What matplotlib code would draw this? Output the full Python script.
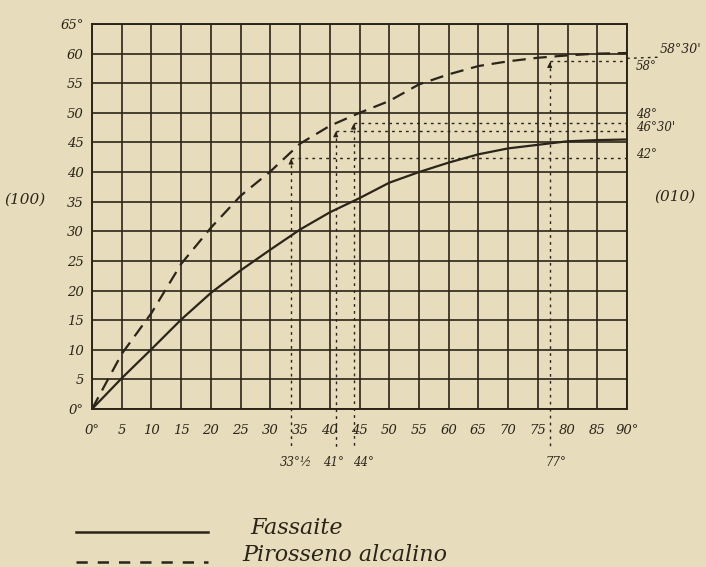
import matplotlib.pyplot as plt
from matplotlib.lines import Line2D
import numpy as np

# extinction angle curves
ang = [0, 5, 10, 15, 20, 25, 30, 35, 40, 45, 50, 55, 60, 65, 70, 75, 80, 85, 90]
fassaite = [0, 5.2, 10.1, 15.1, 19.6, 23.4, 26.9, 30.3, 33.2, 35.6, 38.2, 40.0,
            41.6, 43.0, 44.0, 44.6, 45.2, 45.4, 45.5]
pirosseno = [0, 9.3, 16.2, 24.5, 30.6, 36.0, 40.1, 44.8, 47.8, 50.0, 52.0, 54.8,
             56.5, 57.9, 58.7, 59.3, 59.7, 60.0, 60.1]

# reference points (x on the bottom, y on the right)
ref_x = [33.5, 41, 44, 77]
ref_y = [42.4, 47.0, 48.3, 58.7]
ref_xlab = ["33°½", "41°", "44°", "77°"]
ref_ylab = ["42°", "46°30'", "48°", "58°"]

xticks = list(range(0, 91, 5))
yticks = list(range(0, 66, 5))
xticklab = ["0°"] + [str(v) for v in xticks[1:-1]] + ["90°"]
yticklab = ["0°"] + [str(v) for v in yticks[1:-1]] + ["65°"]

ink = '#2b2519'
paper = '#e7ddbd'
fnt = dict(family='DejaVu Serif', style='italic', color=ink)

fig = plt.figure(figsize=(7.06, 5.67), dpi=100, facecolor=paper)
W, H = 706, 567
ax = fig.add_axes([92/W, 1-409/H, 535/W, 385/H])
ax.set_facecolor(paper)
ax.set_xlim(0, 90)
ax.set_ylim(0, 65)
ax.set_xticks(xticks)
ax.set_yticks(yticks)
ax.set_xticklabels(xticklab, fontsize=9.5, **fnt)
ax.set_yticklabels(yticklab, fontsize=9.5, **fnt)
ax.tick_params(length=0, pad=11, axis='x')
ax.tick_params(length=0, pad=6, axis='y')
ax.grid(True, color=ink, lw=1.2)
for s in ax.spines.values():
    s.set_color(ink)
    s.set_linewidth(1.4)

ax.plot(ang, fassaite, color=ink, lw=1.6)
ax.plot(ang, pirosseno, color=ink, lw=1.6, dashes=(6, 3.5))

dot = (0, (2, 3))
xlab_pos = [34.3, 40.6, 45.6, 78.0]
for xv, yv, xp, xl in zip(ref_x, ref_y, xlab_pos, ref_xlab):
    ax.plot([xv, xv], [yv, -6.5], color=ink, lw=1.0, ls=dot, clip_on=False)
    ax.annotate('', xy=(xv, yv + 0.3), xytext=(xv, yv - 1.5),
                arrowprops=dict(arrowstyle='-|>', color=ink, lw=0.8,
                                mutation_scale=7))
    ax.text(xp, -9, xl, ha='center', va='center', fontsize=8.5, **fnt)

for xv, yv in zip(ref_x, ref_y):
    ax.plot([xv, 90], [yv, yv], color=ink, lw=1.0, ls=dot)

# end of the dashed curve, carried out to the margin
ax.plot([90, 95.5], [59.2, 59.4], color=ink, lw=1.0, ls=dot, clip_on=False)
ax.text(95.5, 60.7, "58°30'", ha='left', va='center', fontsize=9, **fnt)

ylab_pos = [43.0, 47.6, 49.7, 57.9]
for yp, yl in zip(ylab_pos, ref_ylab):
    ax.text(91.5, yp, yl, ha='left', va='center', fontsize=8.5, **fnt)

fig.text(25/W, 1-200/H, "(100)", ha='center', va='center', fontsize=11, **fnt)
fig.text(675/W, 1-197/H, "(010)", ha='center', va='center', fontsize=11, **fnt)

# legend
fig.add_artist(Line2D([76/W, 208/W], [1-532/H, 1-532/H], color=ink, lw=1.8,
                      transform=fig.transFigure))
fig.add_artist(Line2D([76/W, 208/W], [1-562/H, 1-562/H], color=ink, lw=1.8,
                      dashes=(4.5, 4), transform=fig.transFigure))
fig.text(250/W, 1-528/H, "Fassaite", ha='left', va='center', fontsize=16, **fnt)
fig.text(242/W, 1-555/H, "Pirosseno alcalino", ha='left', va='center',
         fontsize=16, **fnt)

fig.savefig('out.png', dpi=100, facecolor=paper)
